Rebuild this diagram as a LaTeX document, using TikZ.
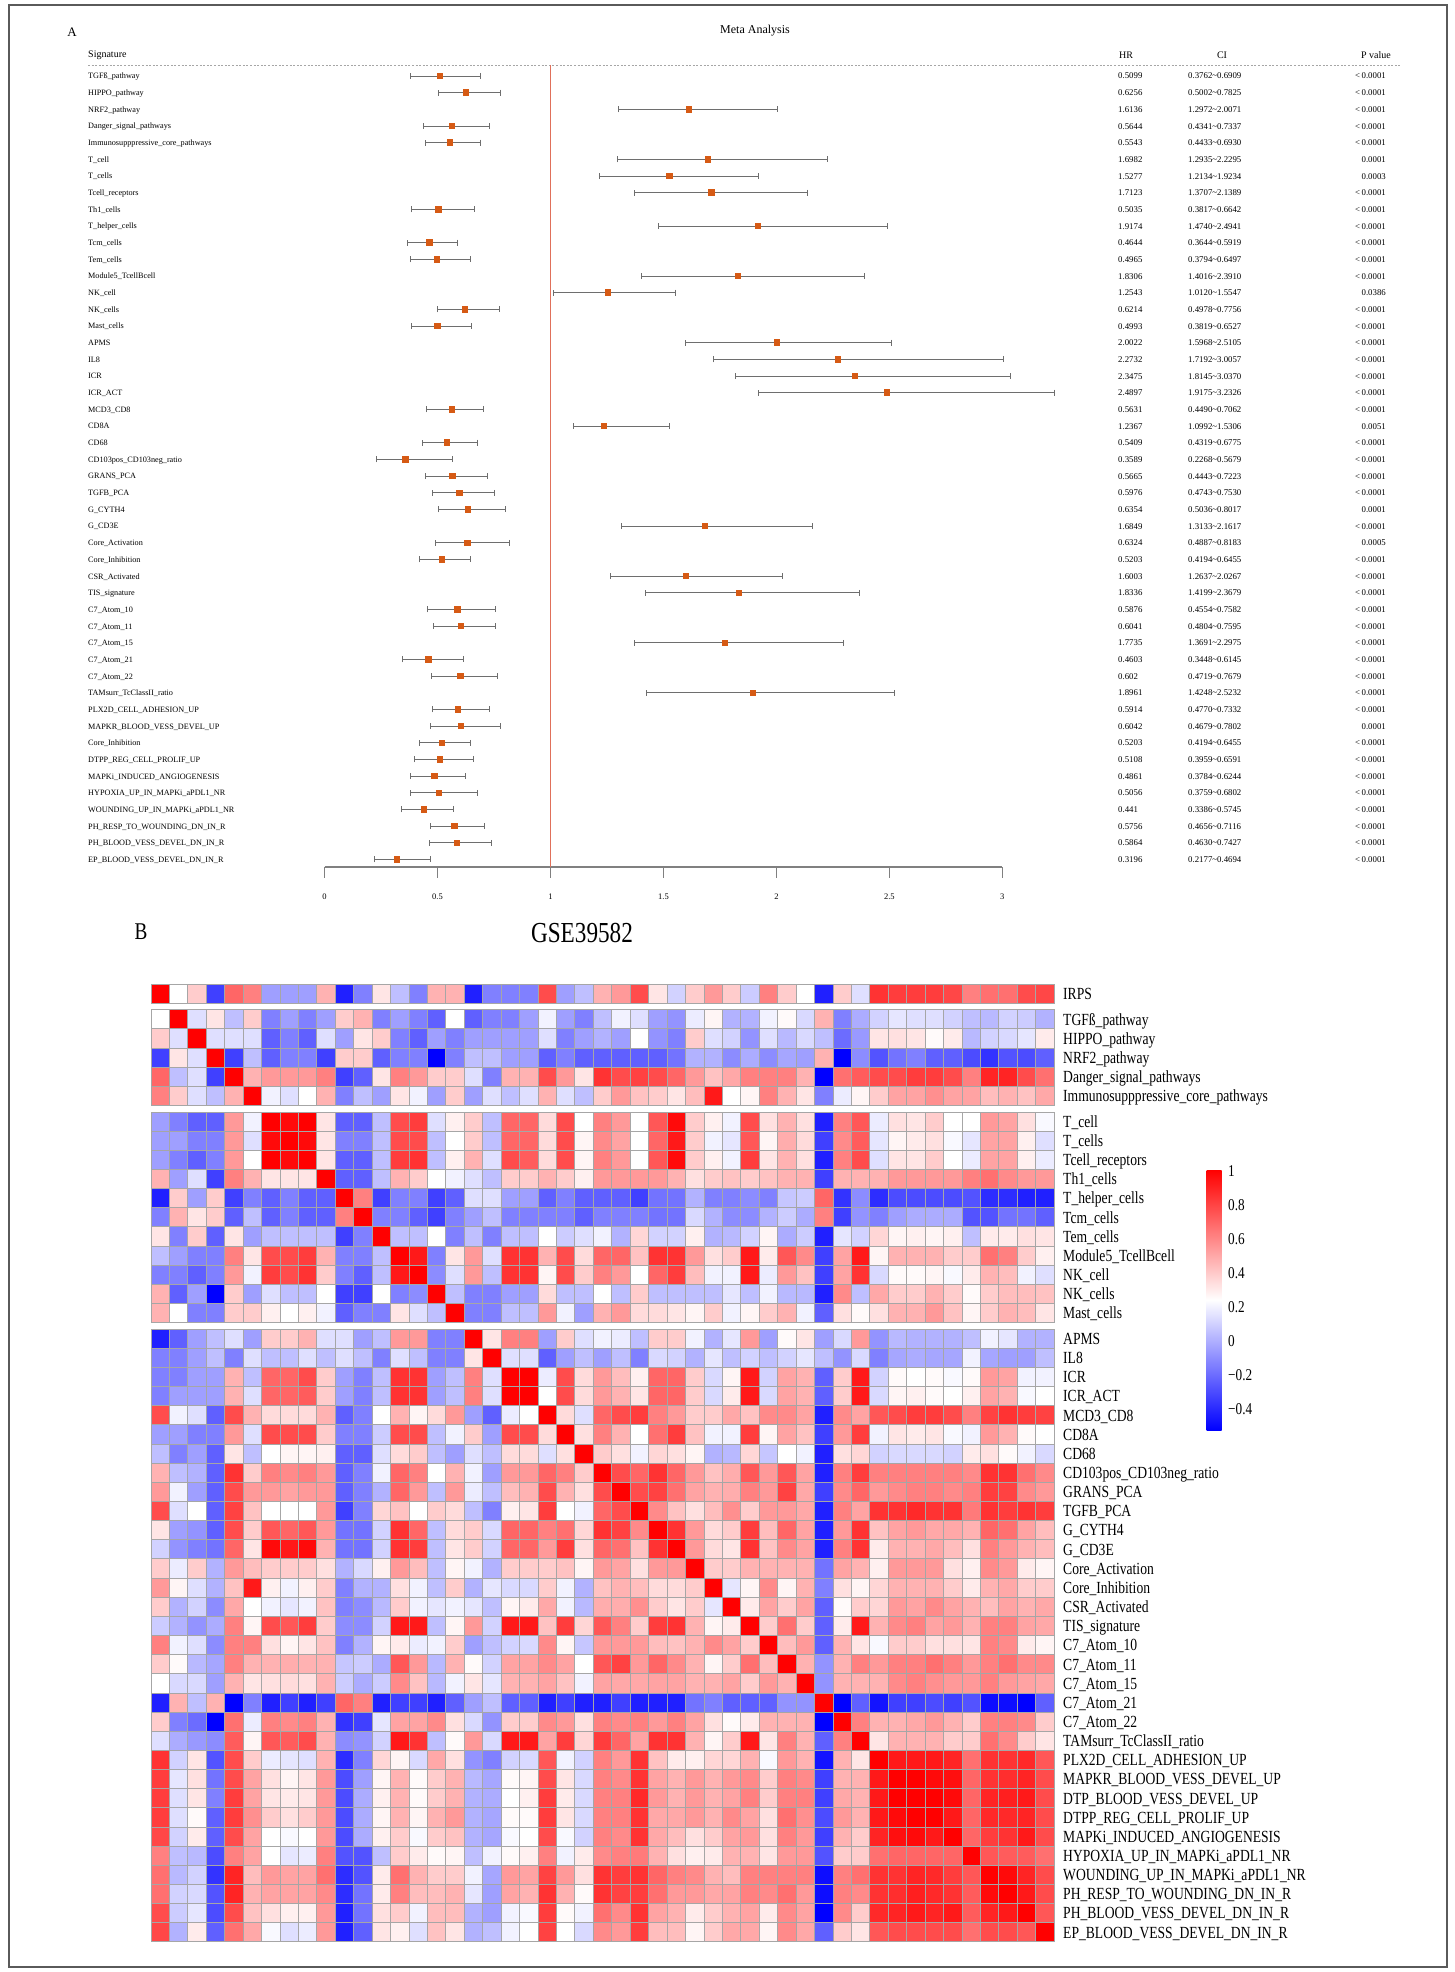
\documentclass[tikz,border=0pt]{standalone}
\usepackage{fontspec}
\setmainfont{Liberation Serif}
\newfontfamily\hmfont[FakeStretch=0.8]{Liberation Serif}
\usetikzlibrary{positioning, calc, arrows.meta}
\definecolor{PtOrange}{HTML}{D65A14}
\definecolor{CiGray}{HTML}{6E6E6E}
\definecolor{RefLine}{HTML}{E0705A}
\definecolor{FrameGray}{HTML}{5A5A5A}
\newcommand\pless{<\,0.0001}
\tikzset{
    signame/.style={anchor=base west, inner sep=0, font=\fontsize{8.2}{9}\selectfont},
    valtext/.style={anchor=base west, inner sep=0, font=\fontsize{8.8}{10}\selectfont},
    pvtext/.style={anchor=base east, inner sep=0, font=\fontsize{8.8}{10}\selectfont},
    headtext/.style={inner sep=0, font=\fontsize{10}{12}\selectfont},
    ticktext/.style={anchor=base, inner sep=0, font=\fontsize{8.5}{10}\selectfont},
    hrbox/.style={rectangle, fill=PtOrange, minimum size=6.5pt, inner sep=0},
    ciline/.style={draw=CiGray, line width=0.9pt, {Bar[width=6pt]}-{Bar[width=6pt]}},
    axisline/.style={draw=gray, line width=1.1pt},
    cellbox/.style={draw=black!35, line width=0.8pt},
    hmlabel/.style={anchor=base west, inner sep=0, font=\hmfont\fontsize{17}{17}\selectfont},
    legtext/.style={anchor=base west, inner sep=0, font=\hmfont\fontsize{16.5}{17}\selectfont},
}
% one heatmap cell: column, row, level (0 blue .. 4 white .. 9 red)
\newcommand\heatcell[3]{%
  \ifdim #3pt<4pt
    \pgfmathsetmacro\hmpct{(4-#3)*25}\def\hmbase{blue}%
  \else
    \pgfmathsetmacro\hmpct{(#3-4)*20}\def\hmbase{red}%
  \fi
  \pgfmathsetmacro\hmx{151+18.43*#1}%
  \pgfmathsetmacro\hmy{984+19.15*#2+6.5*((#2>0)+(#2>5)+(#2>16))}%
  \filldraw[cellbox, fill=\hmbase!\hmpct!white] (\hmx,\hmy) rectangle ++(18.43,19.15);
}

\begin{document}
\begin{tikzpicture}[x=1pt, y=-1pt]
    \useasboundingbox (0,0) rectangle (1454,1972);
    \draw[FrameGray, line width=1.4pt] (9,5) rectangle (1447,1967);

    % Panel A
    \node[font=\fontsize{13}{14}\selectfont] (labA) at (72,32) {A};
    \node[font=\fontsize{12}{14}\selectfont] (meta) at (755,31) {Meta Analysis};
    \node[headtext, anchor=west] (hsig) at (88,55) {Signature};
    \node[headtext] (hhr) at (1126,55) {HR};
    \node[headtext] (hci) at (1222,55) {CI};
    \node[headtext] (hpv) at (1376,55) {P value};
    \coordinate (dashL) at (88,65.5);
    \coordinate (dashR) at (1400,65.5);
    \draw[gray!70, line width=0.6pt, dash pattern=on 2pt off 1.6pt] (dashL) -- (dashR);

    % axis
    \coordinate (ax0) at (324.6,867);
    \coordinate (ax3) at (1002.3,867);
    \draw[axisline] (ax0) -- (ax3);
    \foreach \t/\tl [count=\k] in {0/0,0.5/0.5,1/1,1.5/1.5,2/2,2.5/2.5,3/3}{
        \draw[axisline] ({324.6+225.9*\t},867) -- ++(0,11);
        \node[ticktext] (tk\k) at ({324.6+225.9*\t},899) {\tl};
    }
    \coordinate (reftop) at (550.5,65.5);
    \coordinate (refbot) at (550.5,867);
    \draw[RefLine, line width=0.9pt] (reftop) -- (refbot);

    % rows
    \foreach \nm/\hr/\lo/\hi/\pv [count=\i from 0] in {
        TGFß\_pathway/0.5099/0.3762/0.6909/\pless,
        HIPPO\_pathway/0.6256/0.5002/0.7825/\pless,
        NRF2\_pathway/1.6136/1.2972/2.0071/\pless,
        Danger\_signal\_pathways/0.5644/0.4341/0.7337/\pless,
        Immunosupppressive\_core\_pathways/0.5543/0.4433/0.6930/\pless,
        T\_cell/1.6982/1.2935/2.2295/0.0001,
        T\_cells/1.5277/1.2134/1.9234/0.0003,
        Tcell\_receptors/1.7123/1.3707/2.1389/\pless,
        Th1\_cells/0.5035/0.3817/0.6642/\pless,
        T\_helper\_cells/1.9174/1.4740/2.4941/\pless,
        Tcm\_cells/0.4644/0.3644/0.5919/\pless,
        Tem\_cells/0.4965/0.3794/0.6497/\pless,
        Module5\_TcellBcell/1.8306/1.4016/2.3910/\pless,
        NK\_cell/1.2543/1.0120/1.5547/0.0386,
        NK\_cells/0.6214/0.4978/0.7756/\pless,
        Mast\_cells/0.4993/0.3819/0.6527/\pless,
        APMS/2.0022/1.5968/2.5105/\pless,
        IL8/2.2732/1.7192/3.0057/\pless,
        ICR/2.3475/1.8145/3.0370/\pless,
        ICR\_ACT/2.4897/1.9175/3.2326/\pless,
        MCD3\_CD8/0.5631/0.4490/0.7062/\pless,
        CD8A/1.2367/1.0992/1.5306/0.0051,
        CD68/0.5409/0.4319/0.6775/\pless,
        CD103pos\_CD103neg\_ratio/0.3589/0.2268/0.5679/\pless,
        GRANS\_PCA/0.5665/0.4443/0.7223/\pless,
        TGFB\_PCA/0.5976/0.4743/0.7530/\pless,
        G\_CYTH4/0.6354/0.5036/0.8017/0.0001,
        G\_CD3E/1.6849/1.3133/2.1617/\pless,
        Core\_Activation/0.6324/0.4887/0.8183/0.0005,
        Core\_Inhibition/0.5203/0.4194/0.6455/\pless,
        CSR\_Activated/1.6003/1.2637/2.0267/\pless,
        TIS\_signature/1.8336/1.4199/2.3679/\pless,
        C7\_Atom\_10/0.5876/0.4554/0.7582/\pless,
        C7\_Atom\_11/0.6041/0.4804/0.7595/\pless,
        C7\_Atom\_15/1.7735/1.3691/2.2975/\pless,
        C7\_Atom\_21/0.4603/0.3448/0.6145/\pless,
        C7\_Atom\_22/0.602/0.4719/0.7679/\pless,
        TAMsurr\_TcClassII\_ratio/1.8961/1.4248/2.5232/\pless,
        PLX2D\_CELL\_ADHESION\_UP/0.5914/0.4770/0.7332/\pless,
        MAPKR\_BLOOD\_VESS\_DEVEL\_UP/0.6042/0.4679/0.7802/0.0001,
        Core\_Inhibition/0.5203/0.4194/0.6455/\pless,
        DTPP\_REG\_CELL\_PROLIF\_UP/0.5108/0.3959/0.6591/\pless,
        MAPKi\_INDUCED\_ANGIOGENESIS/0.4861/0.3784/0.6244/\pless,
        HYPOXIA\_UP\_IN\_MAPKi\_aPDL1\_NR/0.5056/0.3759/0.6802/\pless,
        WOUNDING\_UP\_IN\_MAPKi\_aPDL1\_NR/0.441/0.3386/0.5745/\pless,
        PH\_RESP\_TO\_WOUNDING\_DN\_IN\_R/0.5756/0.4656/0.7116/\pless,
        PH\_BLOOD\_VESS\_DEVEL\_DN\_IN\_R/0.5864/0.4630/0.7427/\pless,
        EP\_BLOOD\_VESS\_DEVEL\_DN\_IN\_R/0.3196/0.2177/0.4694/\pless}
    {
        \pgfmathsetmacro\ry{76+16.67*\i}
        \node[signame] (sig\i) at (88,\ry+2.9) {\nm};
        \coordinate (lo\i) at ({324.6+225.9*\lo},\ry);
        \coordinate (hi\i) at ({324.6+225.9*\hi},\ry);
        \draw[ciline] (lo\i) -- (hi\i);
        \node[hrbox] (pt\i) at ({324.6+225.9*\hr},\ry) {};
        \node[valtext] (hr\i) at (1118,\ry+3) {\hr};
        \node[valtext] (ci\i) at (1188,\ry+3) {\lo\textasciitilde\hi};
        \node[pvtext] (pv\i) at (1386,\ry+3) {\pv};
    }

    % Panel B
    \node[font=\hmfont\fontsize{24}{26}\selectfont] (labB) at (141,932) {B};
    \node[font=\hmfont\fontsize{29}{30}\selectfont] (gse) at (582,933) {GSE39582};

    % heatmap, lower triangle mirrored
    \foreach \vals [count=\i] in {
        {4},
        {5,3.5},
        {1,4.5,3.5},
        {7,3,3.5,1},
        {6.5,5,3.5,3,5.5},
        {2.5,2,1.5,1.5,6,3.8},
        {2.5,2.5,2,2,6,3.5,8.8},
        {2.5,2,1.5,2,6,4,9,8.8},
        {5.5,2.5,3.5,1,6.5,5.5,4.5,4.5,4.5},
        {0.5,5,2.5,5,1,2,1.5,2,1.5,1.5},
        {2,5.5,4.5,5,1.5,3,1.5,2,1.5,1.5,6.5},
        {4.5,2,5,1.5,4.5,2.5,3,3,3,3,1,2},
        {3,2.5,2,2,6.5,4.5,7.5,7.5,7.8,5.5,2,2,3},
        {2,2,1.5,2,6,3.8,7.8,7.5,8,5,2,1.5,3,8.5},
        {5.5,1.5,2.5,0,5,2.5,3.5,3,3,4,1,1,4,2,2.2},
        {5.5,4,2,2,5,5,4.3,4,4.3,3.8,1.5,2,2,4.5,3.5,3},
        {0.5,1.5,2.5,3,3.5,2.5,5,5,5.5,3.5,3.5,2.5,3,6,6,2,2},
        {2,2,2.5,3,2,3.5,3,3,3.5,3,3.5,3,2,3.5,3,2,2,4.5},
        {2,2,2.5,2.5,5.5,3,7,7,7.5,5,2.5,2,3,8,8,2.5,3,6.5,3.5},
        {2,2.5,2.5,2.5,5.5,3.5,7,7,7.2,5,2.5,2,3,8,8,2.5,3,6.5,3.5,9},
        {7.5,3.8,3.5,1.5,7.5,5.5,4.7,4.7,4.7,5.5,1.5,2,4,5.5,4.2,4.7,6,2.5,1.5,3.7,4},
        {2.5,2.5,2,2,6,3.5,7.5,7.5,7.5,5,2,2,3.2,7.5,7.5,3,3.8,5,2.5,7.5,7.5,4.7},
        {3,2,2.5,1.5,4.5,3,4,4.2,4.2,4.3,1.5,1.5,3.5,4.7,5,3,2.5,3.5,3,4.7,4.7,3.5,4.6},
        {5.5,3,2.8,1.5,8,5,6.5,6.3,6.5,6,1.5,2,3.8,7,6.5,4,5.5,3.8,2.5,6,6,7,6.5,5},
        {6,3.8,2.5,1.5,7.5,6,6,5.8,6,6,1.5,2,2.8,7,6,3,6,3.7,3,5.3,5.5,7.5,5.5,4.6,7.5},
        {7.5,3.5,4,1.5,7.7,5.2,4,4,4,6,1,2,4.8,5.2,4,5,4.7,3,2,4.3,4.5,7.8,4,3.8,7,7.5},
        {4.5,2.5,2.3,1.5,7.5,5,7.3,7,7.3,6,1.8,1.8,3.3,8,7,3,4.7,5,3.4,7,7,6.5,6.8,4.8,8,7.7,6.3},
        {3.3,2.3,2,1.8,7,4.5,8.8,8.5,8.8,5.5,1.8,1.8,3.3,8,7.8,3,4.5,5,3.3,7,7,6,7.8,4.6,7,6.8,5.2,8},
        {5,3.7,5,2.8,6,5.3,5,5,5,4.6,2.8,3.4,4.3,6,5.3,3,4.2,3.8,2.8,5,5,5,5.2,4.2,6,5.8,4.6,6,6},
        {6,4.2,3.5,2.8,5.2,8.5,4.3,3.8,4.3,5,2,2.8,2.8,4.6,3.8,3,5,2.8,3.6,3.4,3.4,5,3.8,2.8,5.2,5.5,5.3,4.7,4.7,5},
        {5,2.8,3.3,2.2,5.7,4,3.8,3.6,3.8,5.2,2,2.2,2.9,5,3.8,3.6,3.8,3.6,3,4.2,4.4,5.7,3.8,2.9,5.6,5.6,6.2,5,4.5,5,3.6},
        {3.2,2.8,2.3,2.7,6.5,4.2,7.5,7.3,7.8,5,2.2,2.2,3.3,8.5,8.5,3,4.2,6,3.3,8.5,8.5,5.2,7.8,4.8,7.3,6.5,5,7.8,8,5.5,4.2,4.4},
        {6.5,3.8,3.5,2.2,6.5,6.5,4.6,4.2,4.5,5.2,2,2.8,4.2,4.4,3.7,3.8,5,2.5,3,3.3,3.4,6.3,4.2,3.1,6,6,6,5.3,5.2,5.5,6.3,5.8,5},
        {5,4.1,2.9,2.6,6.5,5.5,5.5,5.6,5.5,5.5,3.1,3.2,2.7,7.3,6,2.9,5.5,4.1,3.3,5.8,5.8,6.3,5.8,4,7.3,7.7,6,7,6.3,5.5,4.2,5,6.8,5.3},
        {4,3.4,3.4,2.5,5.5,4.5,4.6,4.7,4.6,5.5,3.2,2.7,3.2,6.3,5.2,2.9,3.8,4.5,3.6,5.5,5.5,5.8,5.2,3.8,5.8,5.7,5.7,5.8,5.8,5.5,5.5,5.8,5,6,5.5},
        {0.5,5.5,3,5.5,0,2,0.5,1,0.5,1,7,6.5,0.5,1,1,0.5,1.5,2.5,3,1.5,1.5,0.5,1,0.5,0.5,1,0.5,0.5,0.5,1.8,2,1.5,1.5,1.5,2.3,2.3},
        {5,2,1.7,0,6.8,3.7,6.5,6.3,6.5,5.5,0.8,1,3.6,5.8,5.8,6.3,4.6,3.4,2.3,5,5,6.3,6,4.6,6.5,6.3,6.5,6,6.5,5.8,4.6,4.1,4.4,5.5,5.5,5.5,0},
        {3.5,2.7,2.4,2.2,7.2,4.2,7.3,7.2,7.5,5.5,2.2,2.3,3.3,8.5,8,3,4.1,6,3.4,8.5,8.5,5.8,7.8,4.8,7.8,7,5.8,8,8,5.5,4.2,5,8.5,4.5,6.5,5.5,1.5,6.5},
        {8,3.3,4.5,1.3,7.5,5,3.7,3.6,3.5,5.5,0.7,2,4.8,4.2,3.4,5.7,4.6,2.3,2,3.3,3.4,7.3,3.8,3.3,6.5,6,8,5.2,4.4,4.3,4.8,4.8,5.5,3.9,6,5.5,0.3,5.5,4.5},
        {7.8,3.6,4.6,1.8,7.5,5.8,4.6,4.2,4.5,6,1.2,2.5,4.2,5.5,4.1,5,5.5,2.9,2.6,4.1,4.2,7.5,4.5,3.4,6.5,6.3,8,5.8,5.5,6,5.5,6,6.3,5,6.5,6.3,1,5.5,5.5,8.5},
        {7.8,3.5,4.5,2,7.8,5.8,4.5,4.4,4.5,6,1.2,2.7,4.3,5.5,4.1,5,5.5,2.8,2.7,4,4.3,7.8,4.4,3.4,6.5,6.5,8.2,6,5.5,6,5.5,5.8,6.5,5,6.5,6.5,1,5.7,5.5,8.5,9},
        {7.8,3.5,4.1,1.5,7.8,6.2,5,4.6,5,6,1.2,2.7,4.2,5.5,4.2,5.5,6,2.8,2.6,4.1,4.1,7.8,4.5,3.4,6.5,6.5,8,5.7,5.7,6,5.5,6.3,5.8,4.6,6.8,6.2,1.2,6,5.5,8.5,8.8,9},
        {7.6,3.3,4.4,1.5,7.5,5.8,4,3.9,4,6,1.2,2.7,4.3,5,3.9,5,5.2,2.8,2.6,3.9,4,7.5,3.9,3.3,6.5,6.3,8,5.7,5.3,4.6,5,5.8,6,4.6,6.5,6,1,5.5,5,8.3,8.7,8.8,8.5},
        {6.5,3,2.9,1.2,6.5,5.8,4,3.6,3.7,6.5,1.3,1.3,3,5,4.4,4.1,4.2,3,3.8,4.1,4.3,6.5,3.8,4.4,6.3,6.5,6.6,5.5,4.6,4.3,4.4,5.5,5.5,4.5,6,6,1.3,5,5,6.8,7,7,7,7},
        {6.8,2.9,3.3,0.8,8.3,5.3,6,5.8,5.8,6.8,0.7,1.3,4.4,6.8,5.5,5,5,3.8,2.6,6,5.8,7.7,6,4.6,8,7.8,8,7,6.5,6.3,5.5,5.3,6.5,6.5,6.5,6.5,0.2,6.5,6.8,8,8,8.3,8.2,7.8,7.3},
        {6.8,3.3,3.4,1.3,8.3,5.5,5.8,5.8,5.8,6.3,0.7,1.8,4.4,6.5,5.3,5.3,5.5,3.6,2.5,5.8,5.5,8,5.5,4.1,8,7.7,7.8,6.8,6,6,5.7,5.8,6.5,6.3,6.8,6,0.2,6.5,6.3,8,8.1,8.4,8.2,8,7.2,8.8},
        {7.5,3.2,3.6,1.2,7.5,5.2,4.6,4.3,4.3,6,0.5,1.8,4.6,5,3.8,5.3,5.3,2.8,2.5,3.8,3.9,7.8,4.1,3.8,6.8,6.3,8,5.8,5.5,4.4,5,5.5,5.8,4.4,6.3,5.8,0,6.3,5,8.2,8.3,8.5,8.3,8.5,7.2,8.3,8.5},
        {7.6,2.8,4.4,1.5,6.8,5.7,3.9,3.5,3.7,6,0.5,1.5,4.5,4.3,3.5,5.2,4.5,2.8,3,3.8,4,7.7,4,3.4,6.3,6,7.8,5.3,5.3,4.2,5,5.7,5.7,4.2,6.3,5.7,1.5,5,4.5,7.3,7.5,7.5,7.5,7.5,6.8,7.5,7.5,7.3}}
    {
        \foreach \v [count=\j from 0] in \vals {
            \heatcell{\j}{\i}{\v}
            \heatcell{\i}{\j}{\v}
        }
    }
    \foreach \k in {0,...,48} {\heatcell{\k}{\k}{9}}

    % row labels
    \foreach \lab [count=\k from 0] in {IRPS, TGFß\_pathway, HIPPO\_pathway, NRF2\_pathway,
        Danger\_signal\_pathways, Immunosupppressive\_core\_pathways, T\_cell, T\_cells,
        Tcell\_receptors, Th1\_cells, T\_helper\_cells, Tcm\_cells, Tem\_cells,
        Module5\_TcellBcell, NK\_cell, NK\_cells, Mast\_cells, APMS, IL8, ICR, ICR\_ACT,
        MCD3\_CD8, CD8A, CD68, CD103pos\_CD103neg\_ratio, GRANS\_PCA, TGFB\_PCA, G\_CYTH4,
        G\_CD3E, Core\_Activation, Core\_Inhibition, CSR\_Activated, TIS\_signature,
        C7\_Atom\_10, C7\_Atom\_11, C7\_Atom\_15, C7\_Atom\_21, C7\_Atom\_22,
        TAMsurr\_TcClassII\_ratio, PLX2D\_CELL\_ADHESION\_UP, MAPKR\_BLOOD\_VESS\_DEVEL\_UP,
        DTP\_BLOOD\_VESS\_DEVEL\_UP, DTPP\_REG\_CELL\_PROLIF\_UP, MAPKi\_INDUCED\_ANGIOGENESIS,
        HYPOXIA\_UP\_IN\_MAPKi\_aPDL1\_NR, WOUNDING\_UP\_IN\_MAPKi\_aPDL1\_NR,
        PH\_RESP\_TO\_WOUNDING\_DN\_IN\_R, PH\_BLOOD\_VESS\_DEVEL\_DN\_IN\_R,
        EP\_BLOOD\_VESS\_DEVEL\_DN\_IN\_R}
    {
        \pgfmathsetmacro\ly{984+19.15*\k+6.5*((\k>0)+(\k>5)+(\k>16))+9.6}
        \node[hmlabel] (lab\k) at (1063,\ly+5.8) {\lab};
    }

    % colour key
    \shade[top color=red, bottom color=white] (1206.7,1170) rectangle (1221.7,1300);
    \shade[top color=white, bottom color=blue] (1206.7,1300) rectangle (1221.7,1430);
    \foreach \v/\vl [count=\k] in {1/1,0.8/0.8,0.6/0.6,0.4/0.4,0.2/0.2,0/0,-0.2/−0.2,-0.4/−0.4}{
        \node[legtext] (key\k) at (1228,{1341-170*\v+5.4}) {\vl};
    }
\end{tikzpicture}
\end{document}
